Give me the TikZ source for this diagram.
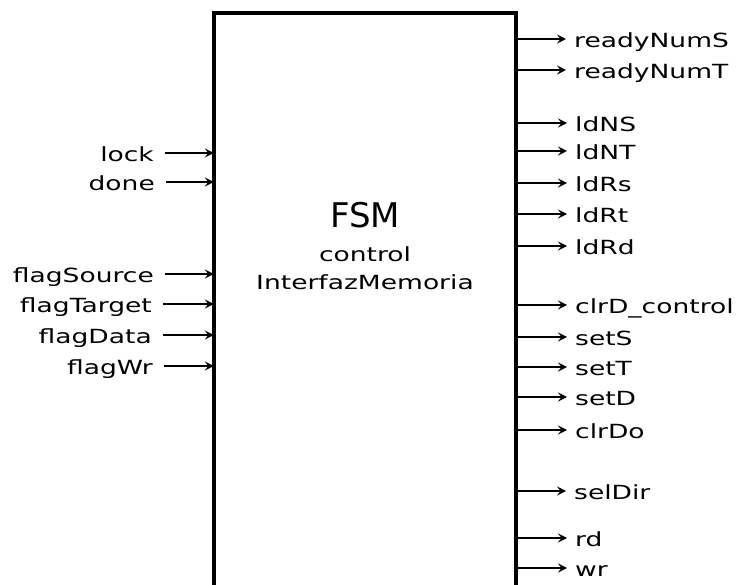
\documentclass[tikz,border=0pt]{standalone}
\usepackage{fontspec}
\usetikzlibrary{arrows.meta}
\newfontfamily\lblfont[FakeStretch=1.36]{DejaVu Sans}
\newfontfamily\fsmfont{DejaVu Sans}
\begin{document}
\begin{tikzpicture}[x=1pt,y=1pt,
  boxline/.style={line width=4pt,line cap=butt,line join=miter},
  sig/.style={line width=1.8pt,-{Stealth[length=9pt,width=9pt,inset=3.5pt]}},
  lbl/.style={inner sep=0pt,text height=20pt,text depth=3pt,font=\lblfont\fontsize{19.5}{22}\selectfont},
  inl/.style={lbl,anchor=east},
  outl/.style={lbl,anchor=west}]
\useasboundingbox (0,0) rectangle (740,-585);
\fill[white] (0,0) rectangle (740,-585);
% block
\node[minimum width=302pt,minimum height=571.5pt,inner sep=0pt] (fsm) at (365,-299.25) {};
\draw[boxline] (fsm.south west) -- (fsm.north west) -- (fsm.north east) -- (fsm.south east);
\node[inner sep=0pt,anchor=base,font=\fsmfont\fontsize{34}{40}\selectfont] (title) at (365,-228) {FSM};
\node[inner sep=0pt,anchor=base,font=\lblfont\fontsize{19.5}{22}\selectfont] (sub1) at (365,-262) {control};
\node[inner sep=0pt,anchor=base,font=\lblfont\fontsize{19.5}{22}\selectfont] (sub2) at (365,-290) {InterfazMemoria};
% inputs
\node[inl] (lock) at (154,-153) {lock};
\node[inl] (done) at (155,-182) {done};
\node[inl] (fsrc) at (154,-274) {flagSource};
\node[inl] (ftgt) at (152,-304) {flagTarget};
\node[inl] (fdat) at (152,-335) {flagData};
\node[inl] (fwr)  at (153,-366) {flagWr};
\foreach \n in {lock,done,fsrc,ftgt,fdat,fwr}
  \draw[sig] ([xshift=11pt]\n.east) -- (\n.east -| fsm.west);
% outputs
\node[outl] (rNS) at (574,-39) {readyNumS};
\node[outl] (rNT) at (574,-70) {readyNumT};
\node[outl] (ldNS) at (575,-123) {ldNS};
\node[outl] (ldNT) at (575,-151) {ldNT};
\node[outl] (ldRs) at (575,-183) {ldRs};
\node[outl] (ldRt) at (575,-214) {ldRt};
\node[outl] (ldRd) at (575,-246) {ldRd};
\node[outl] (clrDctl) at (575,-305) {clrD\_control};
\node[outl] (setS) at (575,-337) {setS};
\node[outl] (setT) at (575,-367) {setT};
\node[outl] (setD) at (575,-397) {setD};
\node[outl] (clrDo) at (575,-430) {clrDo};
\node[outl] (selDir) at (574,-491) {selDir};
\node[outl] (rd) at (575,-538) {rd};
\node[outl] (wr) at (575,-568) {wr};
\foreach \n in {rNS,rNT,ldNS,ldNT,ldRs,ldRt,ldRd,clrDctl,setS,setT,setD,clrDo,selDir,rd,wr}
  \draw[sig] (\n.west -| fsm.east) -- ([xshift=-8pt]\n.west);
\end{tikzpicture}
\end{document}
